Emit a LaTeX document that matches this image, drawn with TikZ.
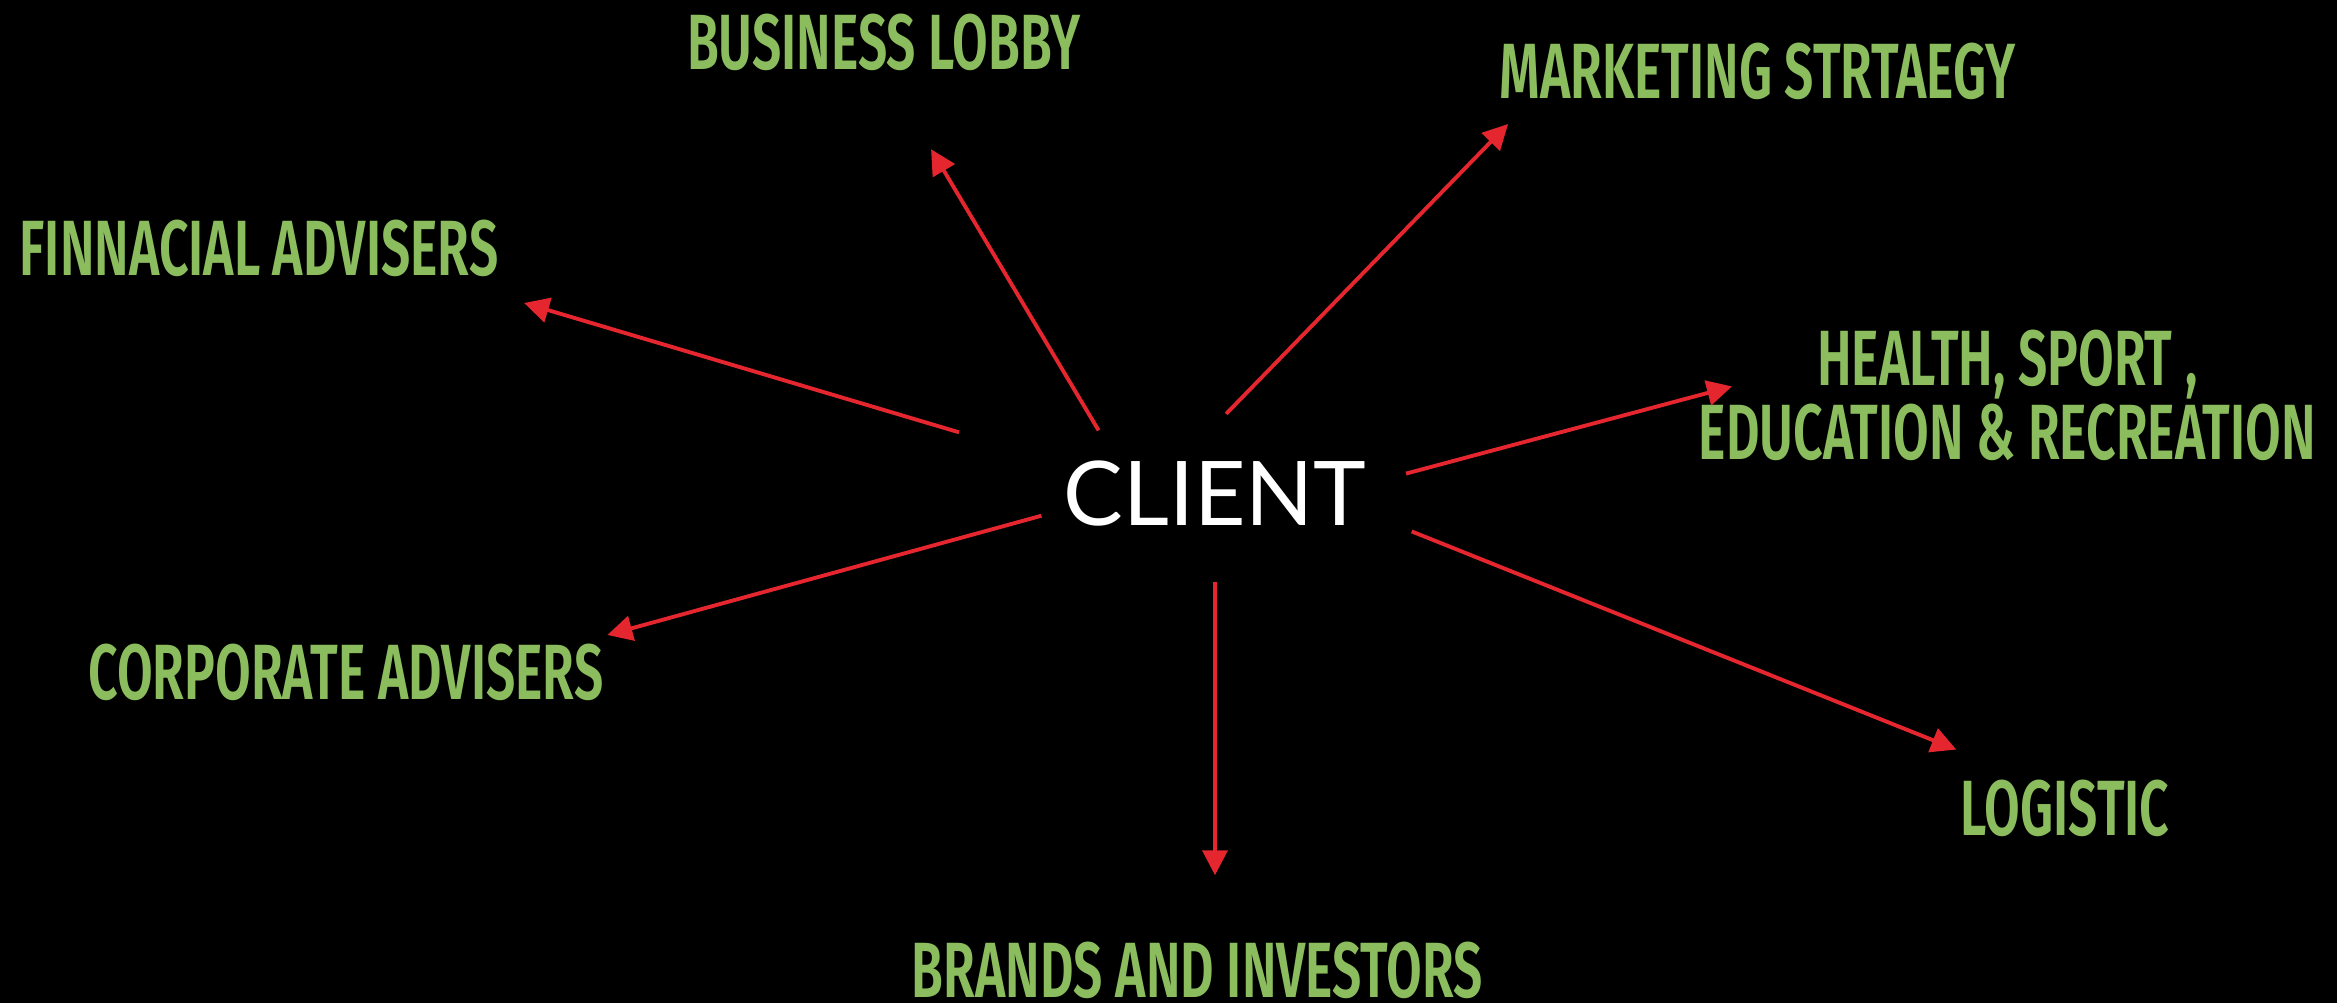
\documentclass[tikz,border=0pt]{standalone}
\usepackage{fontspec}
\usepackage{tikz}
\usetikzlibrary{calc,positioning,arrows.meta}
\newfontfamily\topicfont[FakeStretch=0.66, BoldFont=* SemiBold]{Fira Sans}
\newfontfamily\hubfont{Lato}
\definecolor{topicgreen}{RGB}{139,189,94}
\definecolor{arrowred}{RGB}{229,38,47}
\tikzstyle{topic}     = [text=topicgreen, font=\topicfont\bfseries\fontsize{22.3}{21}\selectfont, inner sep=0pt, text height=0.54cm, text depth=0pt]
\tikzstyle{hub}       = [text=white, font=\hubfont\fontsize{25.4}{30}\selectfont, inner sep=0pt, minimum width=3.4cm, minimum height=1cm]
\tikzstyle{arrow}     = [draw=arrowred, line width=1.1pt, -{Triangle[length=2.5mm,width=2.5mm]}]

\begin{document}
\begin{tikzpicture}
		\fill[black] (0,0) rectangle (23.37,10.03);
		\useasboundingbox (0,0) rectangle (23.37,10.03);

		\node[hub] (client) at (12.15,5.09) {CLIENT};

		\node[topic] (lobby) at (8.84,9.605) {BUSINESS LOBBY};
		\node[topic] (marketing) at (17.575,9.31) {MARKETING STRTAEGY};
		\node[topic] (finnacial) at (2.59,7.545) {FINNACIAL ADVISERS};
		\node[topic, text height={}, text depth={}, align=center] (health) at (20.075,6.075) {HEALTH, SPORT ,\\EDUCATION \& RECREATION};
		\node[topic] (corporate) at (3.46,3.305) {CORPORATE ADVISERS};
		\node[topic] (logistic) at (20.65,1.945) {LOGISTIC};
		\node[topic] (brands) at (11.975,0.32) {BRANDS AND INVESTORS};

		\draw[arrow, shorten <=1.5mm, shorten >=9.2mm] (client.155) -- (lobby.south);
		\draw[arrow, shorten <=4.1mm, shorten >=3.4mm] (client.109) -- (marketing.187);
		\draw[arrow, shorten <=8.9mm, shorten >=9.4mm] (client.168) -- (finnacial.351);
		\draw[arrow, shorten <=2.1mm, shorten >=-3.5mm] (client.5) -- (health.west);
		\draw[arrow, shorten <=0.3mm, shorten >=3.7mm] (client.187) -- (corporate.7);
		\draw[arrow, shorten <=2.8mm, shorten >=8.4mm] (client.351) -- (logistic.138);
		\draw[arrow, shorten <=3.7mm, shorten >=6.8mm] (client.south) -- (client.south |- brands.north);
	\end{tikzpicture}
\end{document}
